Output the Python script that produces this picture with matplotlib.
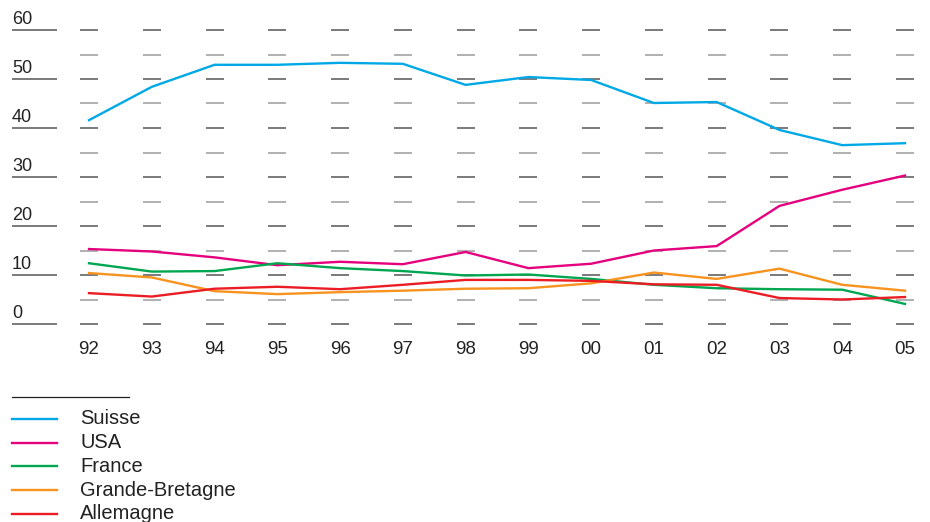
import matplotlib
matplotlib.use("Agg")
import matplotlib.pyplot as plt
from matplotlib.lines import Line2D

years = ["92", "93", "94", "95", "96", "97", "98", "99", "00", "01", "02", "03", "04", "05"]
suisse = [41.6, 48.4, 52.9, 52.9, 53.3, 53.1, 48.8, 50.4, 49.8, 45.1, 45.3, 39.6, 36.5, 36.9]
usa = [15.3, 14.8, 13.6, 12.0, 12.7, 12.2, 14.7, 11.4, 12.3, 15.0, 15.9, 24.1, 27.4, 30.3]
france = [12.4, 10.7, 10.8, 12.4, 11.4, 10.8, 9.9, 10.1, 9.2, 8.0, 7.3, 7.1, 7.0, 4.1]
gb = [10.4, 9.5, 6.7, 6.1, 6.5, 6.8, 7.2, 7.3, 8.3, 10.5, 9.2, 11.3, 8.0, 6.8]
allemagne = [6.3, 5.6, 7.2, 7.6, 7.1, 8.0, 9.0, 9.0, 8.8, 8.1, 8.0, 5.3, 5.0, 5.5]
series_names = ["Suisse", "USA", "France", "Grande-Bretagne", "Allemagne"]
series_colors = ["#00a8e6", "#e5007d", "#00a650", "#f7931e", "#ec1c24"]
y_ticks = [0, 10, 20, 30, 40, 50, 60]
grid_levels = list(range(0, 61, 5))

plt.rcParams['font.family'] = ['Liberation Sans', 'DejaVu Sans']
W, H = 930, 522
fig = plt.figure(figsize=(W / 100, H / 100), dpi=100)
ax = fig.add_axes([0, 0, 1, 1])
ax.axis("off")

# pixel mapping: index 0 -> x=89, index 13 -> x=905 ; value 0 -> y=324, 60 -> y=30
xs_per = (905 - 89) / 13.0
ys_per = (324 - 30) / 60.0
ax.set_xlim(-89 / xs_per, (W - 89) / xs_per)
ax.set_ylim((324 - H) / ys_per, 324 / ys_per)

x = list(range(len(years)))
half = 9 / xs_per
for lv in grid_levels:
    col = "#7a7a7a" if lv % 10 == 0 else "#b0b0b0"
    for i in x:
        ax.plot([i - half, i + half], [lv, lv], color=col, lw=1.4, solid_capstyle="butt", zorder=1)
for t in y_ticks:
    ax.plot([(12 - 89) / xs_per, (57 - 89) / xs_per], [t, t], color="#7a7a7a", lw=1.4,
            solid_capstyle="butt", zorder=1)
    ax.text((12 - 89) / xs_per, t + 0.35, str(t), ha="left", va="bottom", fontsize=13,
            color="#222222")

for i, lab in enumerate(years):
    ax.text(i, (324 - 350) / ys_per, lab, ha="center", va="center", fontsize=13.5, color="#222222")

data = [suisse, usa, france, gb, allemagne]
for vals, c in zip(data, series_colors):
    ax.plot(x, vals, color=c, lw=1.7, zorder=3, solid_joinstyle="round")

# legend
def fx(px):
    return px / W
def fy(py):
    return 1 - py / H
fig.add_artist(Line2D([fx(12), fx(129)], [fy(397), fy(397)], color="#222222", lw=0.9))
for k, (name, c) in enumerate(zip(series_names, series_colors)):
    yy = 419 + k * 23.7
    fig.add_artist(Line2D([fx(12), fx(57)], [fy(yy), fy(yy)], color=c, lw=1.7))
    fig.text(fx(80), fy(yy), name, ha="left", va="center", fontsize=14.5, color="#222222")

fig.savefig("out.png", dpi=100)
